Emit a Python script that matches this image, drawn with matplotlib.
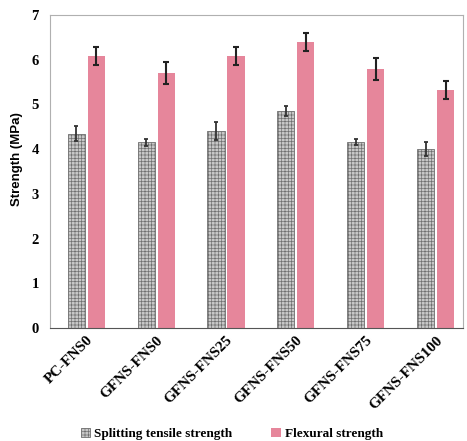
import numpy as np
import matplotlib.pyplot as plt

# data
mixes = ['PC-FNS0', 'GFNS-FNS0', 'GFNS-FNS25', 'GFNS-FNS50', 'GFNS-FNS75', 'GFNS-FNS100']
splitting = [4.35, 4.15, 4.40, 4.85, 4.16, 4.00]
splitting_err = [0.16, 0.08, 0.20, 0.11, 0.06, 0.15]
flexural = [6.08, 5.70, 6.08, 6.40, 5.79, 5.33]
flexural_err = [0.20, 0.25, 0.20, 0.20, 0.24, 0.20]

plt.rcParams['hatch.color'] = '#5a5a5a'
plt.rcParams['hatch.linewidth'] = 0.5

fig = plt.figure(figsize=(4.67, 4.41), dpi=100)
ax = fig.add_axes([0.107, 0.256, 0.884, 0.71])

x = np.arange(len(mixes))
w = 0.245
off = 0.143

ax.bar(x - off, splitting, w, color='#c8c8c8', edgecolor='#707070', linewidth=0.6,
       hatch='+++++', label='Splitting tensile strength',
       yerr=splitting_err, error_kw=dict(ecolor='#333333', elinewidth=1.3, capsize=1.5, capthick=1.3))
ax.bar(x + off, flexural, w, color='#e6869b', edgecolor='none',
       label='Flexural strength',
       yerr=flexural_err, error_kw=dict(ecolor='#222222', elinewidth=1.5, capsize=2, capthick=1.5))

ax.set_ylim(0, 7)
ax.set_xlim(-0.52, 5.39)
ax.set_yticks(range(8))
ax.set_xticks(x)
ax.set_xticklabels(mixes, rotation=45, ha='right', rotation_mode='anchor',
                   fontsize=11, fontfamily='Liberation Serif', fontweight='bold')
for lab in ax.get_yticklabels():
    lab.set_fontfamily('Liberation Serif')
    lab.set_fontweight('bold')
    lab.set_fontsize(10.5)
ax.tick_params(axis='both', length=0, pad=8)
ax.tick_params(axis='x', pad=4)
ax.set_ylabel('Strength (MPa)', fontsize=9.5, fontweight='bold', fontfamily='Liberation Sans')
ax.yaxis.set_label_coords(-0.065, 0.54)

for s in ['top', 'left', 'right']:
    ax.spines[s].set_color('#b0b0b0')
    ax.spines[s].set_linewidth(0.8)
ax.spines['bottom'].set_color('#555555')

ax.legend(loc='lower center', bbox_to_anchor=(0.44, -0.395), ncol=2, frameon=False,
          prop={'family': 'Liberation Serif', 'weight': 'bold', 'size': 9.5},
          handlelength=0.7, handleheight=0.7, handletextpad=0.3, columnspacing=3)

plt.savefig('out.png', dpi=100)
